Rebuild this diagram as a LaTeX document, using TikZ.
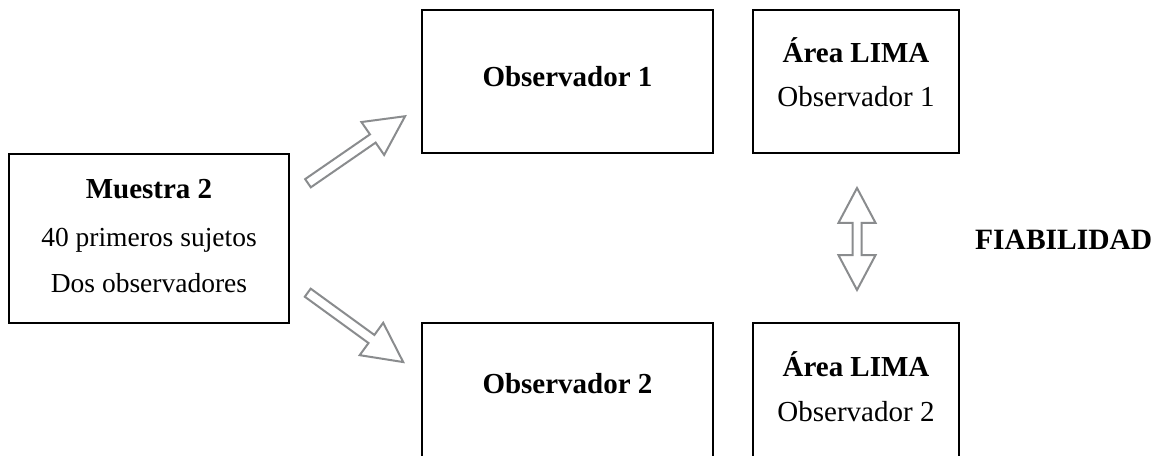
\documentclass[tikz,border=0pt]{standalone}
\usepackage{fontspec}
\setmainfont{Liberation Serif}
\usetikzlibrary{shapes.arrows}
\definecolor{arrowgray}{HTML}{8A8C8E}
\begin{document}
\begin{tikzpicture}[x=1pt,y=-1pt,
  box/.style={draw=black, line width=2pt, rectangle, inner sep=0pt},
  txt/.style={anchor=base, inner sep=0pt, font=\fontsize{27.5}{32}\selectfont},
  ltxt/.style={anchor=base, inner sep=0pt, font=\fontsize{29}{34}\selectfont},
  btxt/.style={anchor=base, inner sep=0pt, font=\fontsize{29}{34}\selectfont\bfseries},
  sarrow/.style={single arrow, draw=arrowgray, fill=white, line width=2pt,
    minimum height=118pt, minimum width=38pt, inner sep=4pt,
    single arrow head extend=15pt, single arrow tip angle=54},
  darrow/.style={double arrow, draw=arrowgray, fill=white, line width=2pt,
    minimum height=102pt, minimum width=35pt, inner sep=3.5pt,
    double arrow head extend=14pt, double arrow tip angle=56}]
\useasboundingbox (0,0) rectangle (1153,455);
\clip (0,0) rectangle (1153,455);
% boxes
\node[box, minimum width=280pt, minimum height=169pt] (m) at (149,238.5) {};
\node[box, minimum width=291pt, minimum height=143pt] (o1) at (567.5,81.5) {};
\node[box, minimum width=206pt, minimum height=143pt] (a1) at (856,81.5) {};
\node[box, minimum width=291pt, minimum height=143pt] (o2) at (567.5,394.5) {};
\node[box, minimum width=206pt, minimum height=143pt] (a2) at (856,394.5) {};
% texts
\node[btxt] (mt1) at (149,198) {Muestra 2};
\node[txt] (mt2) at (149,246) {40 primeros sujetos};
\node[txt] (mt3) at (149,292) {Dos observadores};
\node[btxt] (o1t) at (567.5,86) {Observador 1};
\node[btxt] (a1t1) at (856,62) {Área LIMA};
\node[ltxt] (a1t2) at (856,106) {Observador 1};
\node[btxt] (o2t) at (567.5,393) {Observador 2};
\node[btxt] (a2t1) at (856,376) {Área LIMA};
\node[ltxt] (a2t2) at (856,421) {Observador 2};
\node[btxt, anchor=base west, font=\fontsize{29.5}{34}\selectfont\bfseries] (fia) at (975,249) {FIABILIDAD};
% arrows
\node[sarrow, rotate=34.6] (up) at (352.5,152.5) {};
\node[sarrow, rotate=-36] (down) at (351.5,324.5) {};
\node[darrow, rotate=90] (fiab) at (857,239) {};
\end{tikzpicture}
\end{document}
